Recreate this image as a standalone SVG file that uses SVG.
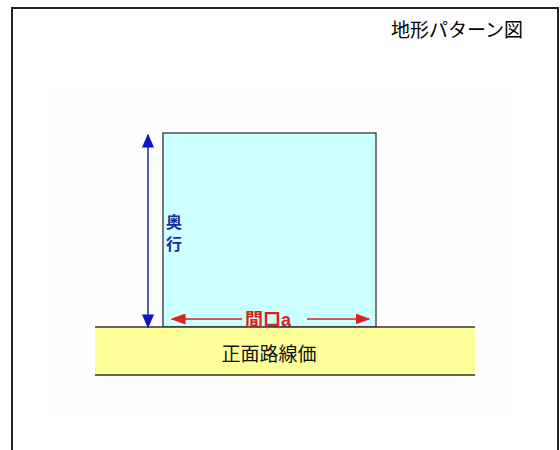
<svg xmlns="http://www.w3.org/2000/svg" width="560" height="450" viewBox="0 0 560 450">
<style>
.jp{font-family:"Liberation Sans","Noto Sans CJK JP",sans-serif}
.title{font-size:19px;fill:#000}
.blue{font-size:16px;font-weight:bold;fill:#1a2aa0}
.red{font-size:18px;font-weight:bold;fill:#dd2020}
.road{font-size:19px;fill:#111}
</style>
<defs>
<marker id="ab" viewBox="0 0 10 10" refX="9" refY="5" markerWidth="14" markerHeight="12" markerUnits="userSpaceOnUse" orient="auto" preserveAspectRatio="none"><path d="M0,0 L10,5 L0,10 Z" fill="#0a14c8"/></marker>
<marker id="ar" viewBox="0 0 10 10" refX="9" refY="5" markerWidth="15" markerHeight="11" markerUnits="userSpaceOnUse" orient="auto" preserveAspectRatio="none"><path d="M0,0 L10,5 L0,10 Z" fill="#dd2020"/></marker>
</defs>
<rect x="0" y="0" width="560" height="450" fill="#fff"/>
<rect x="12" y="8" width="546" height="450" fill="#fff" stroke="#222" stroke-width="2"/>
<rect x="47" y="86" width="465" height="330" fill="#fefefe"/>
<g id="title"><text class="jp title" x="391" y="37">地形パターン図</text></g>
<g id="lot"><rect x="163" y="133" width="213" height="194" fill="#ccffff" stroke="#333" stroke-width="1.3"/></g>
<g id="road">
<rect x="95" y="327" width="380" height="48" fill="#ffff99"/>
<line x1="95" y1="327" x2="475" y2="327" stroke="#333" stroke-width="1.5"/>
<line x1="95" y1="375" x2="475" y2="375" stroke="#333" stroke-width="1.5"/>
<text class="jp road" x="269" y="361" text-anchor="middle">正面路線価</text>
</g>
<g id="connectors">
<line x1="148" y1="232" x2="148" y2="135" stroke="#1a2aa0" stroke-width="1.5" marker-end="url(#ab)"/>
<line x1="148" y1="232" x2="148" y2="327" stroke="#1a2aa0" stroke-width="1.5" marker-end="url(#ab)"/>
<line x1="242" y1="319" x2="172" y2="319" stroke="#dd2020" stroke-width="1.5" marker-end="url(#ar)"/>
<line x1="307" y1="319" x2="369" y2="319" stroke="#dd2020" stroke-width="1.5" marker-end="url(#ar)"/>
</g>
<g id="label-depth"><text class="jp blue" x="166" y="228">奥</text><text class="jp blue" x="166" y="250">行</text></g>
<g id="label-frontage"><text class="jp red" x="245" y="326">間口a</text></g>
</svg>
